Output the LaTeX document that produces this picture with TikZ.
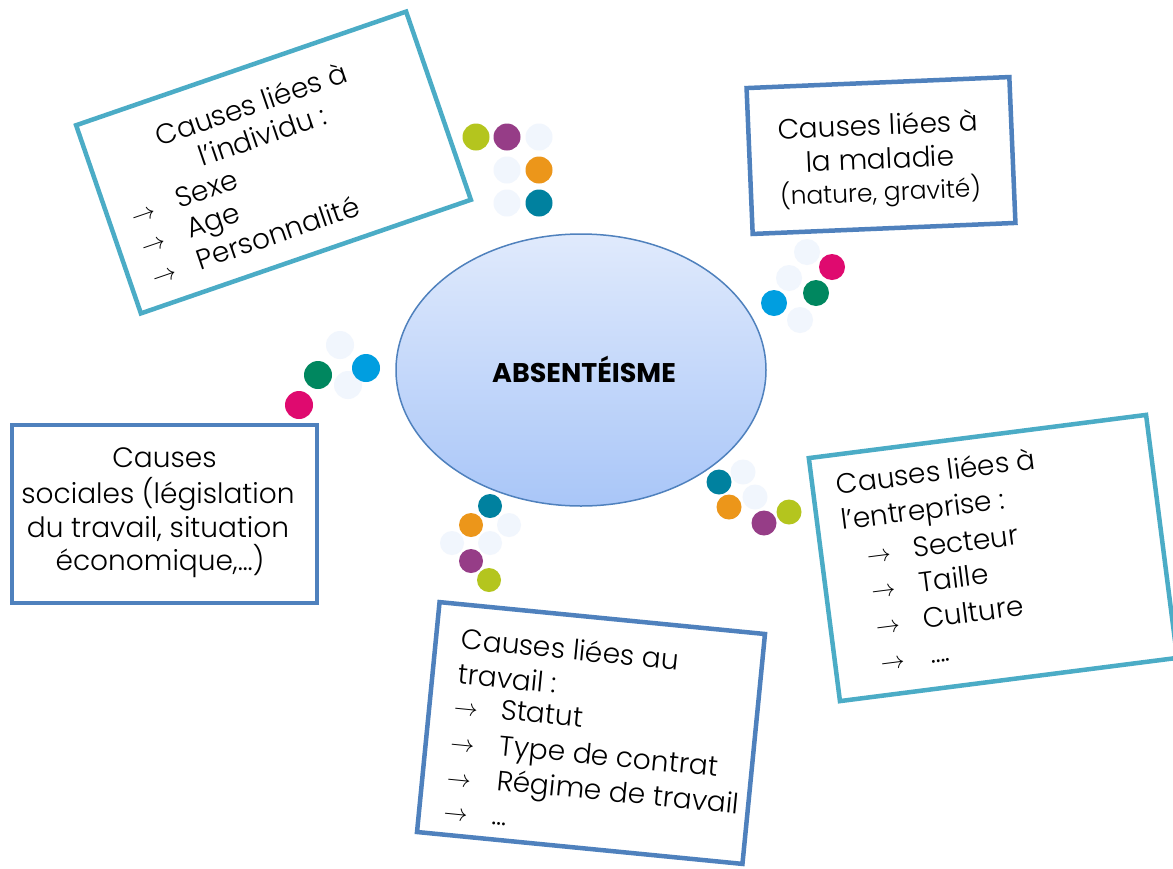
\documentclass[tikz,border=0pt]{standalone}
\usepackage{graphicx}
\usepackage{fontspec}
\setmainfont{Poppins}[UprightFont=* Light, BoldFont=* Bold]
\usetikzlibrary{shapes.geometric}

\definecolor{aqua}{HTML}{4BACC6}
\definecolor{bluebox}{HTML}{4F81BD}
\definecolor{ellborder}{HTML}{4F81BD}
\definecolor{elltop}{HTML}{E0EAFC}
\definecolor{ellbot}{HTML}{A9C6F8}
\definecolor{paledot}{HTML}{F1F6FD}
\definecolor{dolive}{HTML}{B4C51E}
\definecolor{dpurple}{HTML}{963D87}
\definecolor{dorange}{HTML}{EC961A}
\definecolor{dteal}{HTML}{00819F}
\definecolor{dmagenta}{HTML}{DF0A6F}
\definecolor{dgreen}{HTML}{00875F}
\definecolor{dblue}{HTML}{009EE0}

% list bullet arrow
\newcommand{\listarrow}{\resizebox{24pt}{!}{$\rightarrow$}}

\begin{document}
\begin{tikzpicture}[x=1pt,y=-1pt,
  causebox/.style={draw, line width=4.5pt, fill=white, rectangle, inner sep=0pt},
  txt/.style={inner sep=0pt, text height=20pt, text depth=6pt,
    font=\fontsize{28}{34}\selectfont},
  smalltxt/.style={inner sep=0pt, text height=18pt, text depth=6pt,
    font=\fontsize{25}{30}\selectfont},
  arr/.style={inner sep=0pt, text height=20pt, text depth=6pt},
  pale/.style={fill=paledot},
]
\useasboundingbox[fill=white] (0,0) rectangle (1173,868);

% decorative dot clusters
\foreach \p in {(539,137),(507,170),(507,203)} \fill[pale] \p circle[radius=13.5];
\fill[dolive]   (476,137) circle[radius=13.5];
\fill[dpurple]  (507,137) circle[radius=13.5];
\fill[dorange]  (539,170) circle[radius=13.5];
\fill[dteal]    (539,203) circle[radius=13.5];

\foreach \p in {(807,252),(789,278),(800,320)} \fill[pale] \p circle[radius=13];
\fill[dmagenta] (832,267) circle[radius=13];
\fill[dgreen]   (816,293) circle[radius=13];
\fill[dblue]    (774,303) circle[radius=13];

\foreach \p in {(340,345),(348,385)} \fill[pale] \p circle[radius=14];
\fill[dblue]    (366,368) circle[radius=14];
\fill[dgreen]   (318,375) circle[radius=14];
\fill[dmagenta] (299,405) circle[radius=14];

\foreach \p in {(743,472),(755,497)} \fill[pale] \p circle[radius=12.5];
\fill[dteal]    (719,482) circle[radius=12.5];
\fill[dorange]  (729,507) circle[radius=12.5];
\fill[dpurple]  (764,523) circle[radius=12.5];
\fill[dolive]   (789,512) circle[radius=12.5];

\foreach \p in {(509,525),(452,543),(490,543)} \fill[pale] \p circle[radius=12];
\fill[dteal]    (490,506) circle[radius=12];
\fill[dorange]  (471,525) circle[radius=12];
\fill[dpurple]  (471,561) circle[radius=12];
\fill[dolive]   (489,580) circle[radius=12];

% central ellipse
\node[ellipse, draw=ellborder, line width=1.5pt, top color=elltop, bottom color=ellbot,
  minimum width=370, minimum height=272, inner sep=0pt] (absent) at (581,370) {};
\node[font=\fontsize{27}{32}\selectfont\bfseries, inner sep=0pt] (absentlabel) at (584,369) {ABSENTÉISME};

% causes liées à l'individu
\begin{scope}[shift={(273.5,162.5)}, rotate=19, transform shape]
  \node[causebox, draw=aqua, minimum width=349, minimum height=199] (individu) at (0,0) {};
  \node[txt] (ind1) at (-2,-59) {Causes liées à};
  \node[txt] (ind2) at (-2,-26) {l’individu :};
  \node[arr, anchor=west] (inda1) at (-152,6) {\listarrow};
  \node[arr, anchor=west] (inda2) at (-152,38) {\listarrow};
  \node[arr, anchor=west] (inda3) at (-152,71) {\listarrow};
  \node[txt, anchor=west] (indt1) at (-104,6) {Sexe};
  \node[txt, anchor=west] (indt2) at (-104,38) {Age};
  \node[txt, anchor=west] (indt3) at (-104,71) {Personnalité};
\end{scope}

% causes liées à la maladie
\begin{scope}[shift={(881,155.5)}, rotate=2.4, transform shape]
  \node[causebox, draw=bluebox, minimum width=263, minimum height=146] (maladie) at (0,0) {};
  \node[txt] (mal1) at (-2,-27.5) {Causes liées à};
  \node[txt] (mal2) at (-1,6.5) {la maladie};
  \node[smalltxt] (mal3) at (-2,39.5) {(nature, gravité)};
\end{scope}

% causes sociales
\node[causebox, draw=bluebox, minimum width=305, minimum height=178] (sociales) at (164.5,514) {};
\node[txt] (soc1) at (164.5,460) {Causes};
\node[txt] (soc2) at (158,496) {sociales (législation};
\node[txt] (soc3) at (158,530) {du travail, situation};
\node[txt] (soc4) at (160,563) {économique,…)};

% causes liées à l'entreprise
\begin{scope}[shift={(993,558)}, rotate=7.3, transform shape]
  \node[causebox, draw=aqua, minimum width=340, minimum height=245] (entreprise) at (0,0) {};
  \node[txt, anchor=west] (ent1) at (-146,-90) {Causes liées à};
  \node[txt, anchor=west] (ent2) at (-146,-54) {l’entreprise :};
  \node[arr, anchor=west] (enta1) at (-125,-17) {\listarrow};
  \node[arr, anchor=west] (enta2) at (-125,18) {\listarrow};
  \node[arr, anchor=west] (enta3) at (-125,54) {\listarrow};
  \node[arr, anchor=west] (enta4) at (-125,90) {\listarrow};
  \node[txt, anchor=west] (entt1) at (-78,-17) {Secteur};
  \node[txt, anchor=west] (entt2) at (-77,18) {Taille};
  \node[txt, anchor=west] (entt3) at (-77,54) {Culture};
  \node[txt, anchor=west] (entt4) at (-75,90) {….};
\end{scope}

% causes liées au travail
\begin{scope}[shift={(591,733)}, rotate=-5.6, transform shape]
  \node[causebox, draw=bluebox, minimum width=327, minimum height=231] (travail) at (0,0) {};
  \node[txt, anchor=west] (tra1) at (-138,-78) {Causes liées au};
  \node[txt, anchor=west] (tra2) at (-138,-43) {travail :};
  \node[arr, anchor=west] (traa1) at (-139,-12) {\listarrow};
  \node[arr, anchor=west] (traa2) at (-139,24) {\listarrow};
  \node[arr, anchor=west] (traa3) at (-139,59) {\listarrow};
  \node[arr, anchor=west] (traa4) at (-139,94) {\listarrow};
  \node[txt, anchor=west] (trat1) at (-92,-12) {Statut};
  \node[txt, anchor=west] (trat2) at (-90,24) {Type de contrat};
  \node[txt, anchor=west] (trat3) at (-89,59) {Régime de travail};
  \node[txt, anchor=west] (trat4) at (-90,94) {…};
\end{scope}
\end{tikzpicture}
\end{document}
